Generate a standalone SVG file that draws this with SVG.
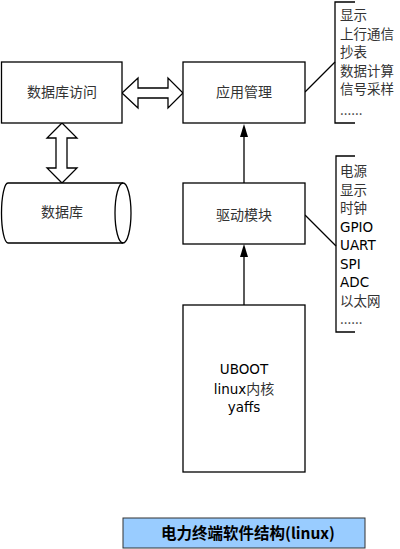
<svg xmlns="http://www.w3.org/2000/svg" width="400" height="549" viewBox="0 0 400 549">
<style>
.box{fill:#fff;stroke:#000;stroke-width:1.3}
.ln{fill:none;stroke:#000;stroke-width:1.3}
.cn{font-family:"Noto Sans CJK SC","DejaVu Sans",sans-serif;font-size:14px;fill:#333}
.ls{font-family:"Noto Sans CJK SC","DejaVu Sans",sans-serif;font-size:13.5px;fill:#333}
.lt{font-family:"DejaVu Sans","Noto Sans CJK SC",sans-serif;font-size:13.5px;fill:#000}
.mid{text-anchor:middle}
</style>
<rect width="400" height="549" fill="#fff"/>
<g id="connectors">
<path class="ln" d="M122,93 L138,78 L138,88 L168,88 L168,78 L183,93 L168,108 L168,98 L138,98 L138,108 Z" fill="#fff"/>
<path class="ln" d="M62,123 L77,138 L67,138 L67,168 L77,168 L62,183 L47,168 L56,168 L56,138 L47,138 Z" fill="#fff"/>
<line class="ln" x1="244" y1="183" x2="244" y2="137"/>
<path d="M240,137 L244,124 L248,137 Z" fill="#000"/>
<line class="ln" x1="244" y1="305" x2="244" y2="257"/>
<path d="M240,257 L244,244 L248,257 Z" fill="#000"/>
<line class="ln" x1="305" y1="92" x2="335" y2="62"/>
<line class="ln" x1="305" y1="215" x2="336" y2="246"/>
</g>
<g id="dbaccess">
<rect class="box" x="1.5" y="62" width="120.5" height="61"/>
<text class="cn mid" x="62" y="97">数据库访问</text>
</g>
<g id="appmgmt">
<rect class="box" x="183" y="62" width="122" height="61"/>
<text class="cn mid" x="244" y="97">应用管理</text>
</g>
<g id="database">
<path class="box" d="M8,183 L123,183 A8,30 0 0 1 123,243 L8,243 A6.5,30 0 0 1 8,183 Z"/>
<path class="ln" d="M123,183 A8,30 0 0 0 123,243"/>
<text class="cn mid" x="62" y="217">数据库</text>
</g>
<g id="driver">
<rect class="box" x="183" y="183" width="122" height="61"/>
<text class="cn mid" x="244" y="220">驱动模块</text>
</g>
<g id="kernel">
<rect class="box" x="183" y="305" width="122" height="167"/>
<text class="lt mid" x="244" y="374">UBOOT</text>
<text class="lt mid" x="244" y="394">linux<tspan class="cn">内核</tspan></text>
<text class="lt mid" x="244" y="412">yaffs</text>
</g>
<g id="applist">
<path class="ln" d="M355,2 L335,2 L335,123 L355,123"/>
<text class="ls" x="340" y="20">显示</text>
<text class="ls" x="340" y="38.5">上行通信</text>
<text class="ls" x="340" y="57">抄表</text>
<text class="ls" x="340" y="75.5">数据计算</text>
<text class="ls" x="340" y="94">信号采样</text>
<text class="ls" x="340" y="115">......</text>
</g>
<g id="driverlist">
<path class="ln" d="M355,156 L336,156 L336,332 L355,332"/>
<text class="ls" x="340" y="176">电源</text>
<text class="ls" x="340" y="194.5">显示</text>
<text class="ls" x="340" y="213">时钟</text>
<text class="lt" x="340" y="231.5">GPIO</text>
<text class="lt" x="340" y="250">UART</text>
<text class="lt" x="340" y="268.5">SPI</text>
<text class="lt" x="340" y="287">ADC</text>
<text class="ls" x="340" y="305.5">以太网</text>
<text class="ls" x="340" y="324">......</text>
</g>
<g id="title">
<rect x="123" y="518" width="242" height="30" fill="#99ccff" stroke="#333" stroke-width="1"/>
<text class="mid" x="248" y="538.5" font-family="'Noto Sans CJK SC','DejaVu Sans',sans-serif" font-size="15.5" font-weight="bold" fill="#000">电力终端软件结构(linux)</text>
</g>
</svg>
